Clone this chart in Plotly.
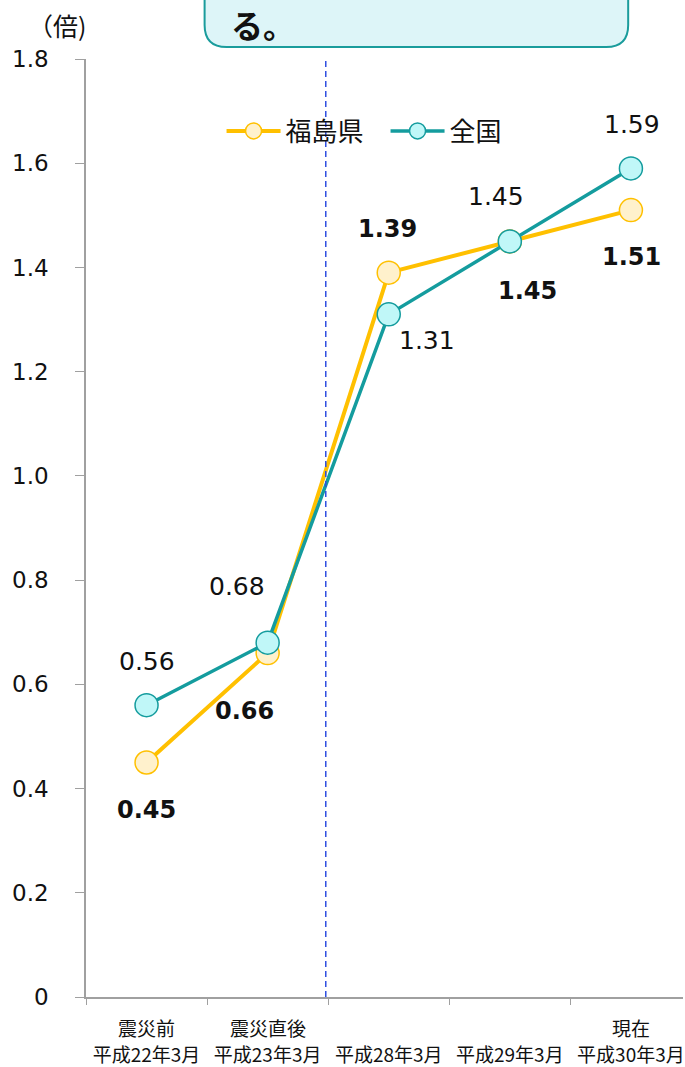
import plotly.graph_objects as go

# Categories (period labels) and sub-labels shown above them
periods = ["平成22年3月", "平成23年3月", "平成28年3月", "平成29年3月", "平成30年3月"]
period_notes = ["震災前", "震災直後", "", "", "現在"]

# Ratio values (倍)
fukushima = [0.45, 0.66, 1.39, 1.45, 1.51]
national = [0.56, 0.68, 1.31, 1.45, 1.59]

y_ticks = [0, 0.2, 0.4, 0.6, 0.8, 1.0, 1.2, 1.4, 1.6, 1.8]
y_tick_text = ["0", "0.2", "0.4", "0.6", "0.8", "1.0", "1.2", "1.4", "1.6", "1.8"]

# Label offsets in pixels (dx, dy) relative to each marker
fuk_offsets = [(0, 47), (-23, 58), (-1, -44), (18, 50), (1, 47)]
nat_offsets = [(0, -44), (-31, -56), (38, 26), (-14, -45), (1, -44)]

W, H = 685, 1067
L, R, T, B = 86, 0, 59, 70
PW, PH = W - L - R, H - T - B

NUM_FONT = "DejaVu Sans, Noto Sans CJK JP, sans-serif"
JP_FONT = "Noto Sans CJK JP, sans-serif"

YELLOW = "#FFC000"
YELLOW_FILL = "#FFF1CC"
TEAL = "#149C9E"
TEAL_FILL = "#C0F7F8"


def px(xp):
    return (xp - L) / PW


def py(yp):
    return (H - B - yp) / PH


fig = go.Figure()
fig.add_trace(go.Scatter(
    x=periods, y=fukushima, name="福島県", mode="lines+markers",
    line=dict(color=YELLOW, width=4),
    marker=dict(size=23, color=YELLOW_FILL, line=dict(color=YELLOW, width=1.5)),
    cliponaxis=False,
))
fig.add_trace(go.Scatter(
    x=periods, y=national, name="全国", mode="lines+markers",
    line=dict(color=TEAL, width=3.5),
    marker=dict(size=23, color=TEAL_FILL, line=dict(color=TEAL, width=1.5)),
    cliponaxis=False,
))

annotations = []
for cat, v, (dx, dy) in zip(periods, fukushima, fuk_offsets):
    annotations.append(dict(
        x=cat, y=v, xref="x", yref="y", text=f"<b>{v:.2f}</b>", showarrow=False,
        xshift=dx, yshift=-dy, font=dict(family=NUM_FONT, size=24, color="#111111"),
    ))
for cat, v, (dx, dy) in zip(periods, national, nat_offsets):
    annotations.append(dict(
        x=cat, y=v, xref="x", yref="y", text=f"{v:.2f}", showarrow=False,
        xshift=dx, yshift=-dy, font=dict(family=NUM_FONT, size=25, color="#111111"),
    ))
# Upper line of the category labels
for cat, note in zip(periods, period_notes):
    if note:
        annotations.append(dict(
            x=cat, y=py(1027), xref="x", yref="paper", text=note, showarrow=False,
            yanchor="middle", font=dict(family=JP_FONT, size=19, color="#111111"),
        ))
# Unit label
annotations.append(dict(
    x=px(88), y=py(25), xref="paper", yref="paper", text="（倍)", showarrow=False,
    xanchor="right", yanchor="middle", font=dict(family=JP_FONT, size=25, color="#111111"),
))
# Callout text
annotations.append(dict(
    x=px(229), y=py(24), xref="paper", yref="paper", text="<b>る。</b>", showarrow=False,
    xanchor="left", yanchor="middle", font=dict(family=JP_FONT, size=32, color="#111111"),
))

# Rounded callout box (bottom part)
x0, x1, yb, yt, r = px(205), px(630), py(47), py(-20), 22
rx, ry = r / PW, r / PH
box_path = (
    f"M {x0},{yt} L {x0},{yb + ry} Q {x0},{yb} {x0 + rx},{yb} "
    f"L {x1 - rx},{yb} Q {x1},{yb} {x1},{yb + ry} L {x1},{yt} Z"
)

fig.update_layout(
    width=W, height=H,
    margin=dict(l=L, r=R, t=T, b=B),
    paper_bgcolor="white", plot_bgcolor="white",
    showlegend=True,
    legend=dict(
        orientation="h", x=px(222), y=py(131), xanchor="left", yanchor="middle",
        font=dict(family=JP_FONT, size=26, color="#111111"),
        bgcolor="rgba(0,0,0,0)", itemwidth=54, entrywidth=95, entrywidthmode="pixels",
    ),
    annotations=annotations,
    shapes=[
        dict(type="line", xref="x", yref="y", x0=1.48, x1=1.48, y0=0, y1=1.8,
             line=dict(color="#2F4FE0", width=1.5, dash="6px,4px")),
        dict(type="path", xref="paper", yref="paper", path=box_path,
             fillcolor="#DDF5F8", line=dict(color="#1A9C9C", width=2), layer="above"),
    ],
    xaxis=dict(
        type="category", range=[-0.5, 4.43], showgrid=False, zeroline=False,
        showline=True, linecolor="#A0A0A0", linewidth=1.5,
        ticks="outside", tickson="boundaries", ticklen=6, tickcolor="#A0A0A0",
        tickfont=dict(family=JP_FONT, size=19, color="#111111"),
        ticklabelstandoff=40,
    ),
    yaxis=dict(
        range=[0, 1.8], tickvals=y_ticks, ticktext=y_tick_text,
        showgrid=False, zeroline=False,
        showline=True, linecolor="#A0A0A0", linewidth=1.5,
        ticks="outside", ticklen=9, tickcolor="#A0A0A0",
        tickfont=dict(family=NUM_FONT, size=23, color="#111111"),
        ticklabelstandoff=22,
    ),
)

fig.write_html("out.html")
